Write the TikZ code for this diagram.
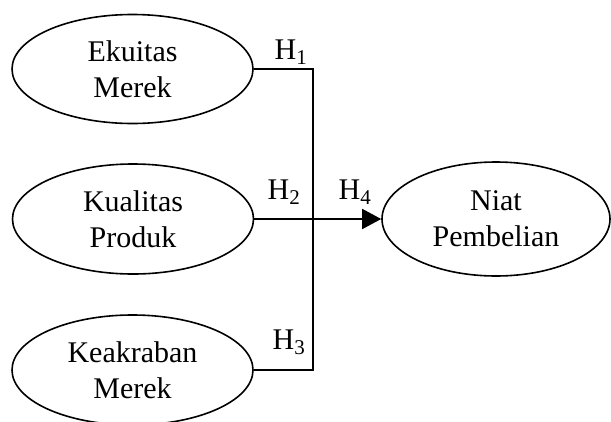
\documentclass[tikz,border=0pt]{standalone}
\usepackage{fontspec}
\setmainfont{Liberation Serif}
\usetikzlibrary{shapes.geometric, arrows.meta}

\tikzset{
  var/.style = {draw, ellipse, line width=1.6pt, inner sep=0pt, align=center,
    font=\fontsize{30}{36}\selectfont},
  hyp/.style = {font=\fontsize{30}{36}\selectfont, inner sep=0pt}
}

\begin{document}
\begin{tikzpicture}[x=1pt, y=-1pt]
\useasboundingbox (0,0) rectangle (611,421);
\node[var, minimum width=241pt, minimum height=109pt] (ekuitas) at (132.5,69) {Ekuitas\\Merek};
\node[var, minimum width=241pt, minimum height=110pt] (kualitas) at (133,219) {Kualitas\\Produk};
\node[var, minimum width=241pt, minimum height=110pt] (keakraban) at (132.5,370) {Keakraban\\Merek};
\node[var, minimum width=228pt, minimum height=114pt] (niat) at (496,219) {Niat\\Pembelian};
\coordinate (junc) at (313,219);
\draw[line width=1.6pt] (ekuitas.east) -| (junc);
\draw[line width=1.6pt] (keakraban.east) -| (junc);
\draw[line width=1.6pt, -{Triangle[length=19pt, width=20pt]}] (kualitas.east) -- (niat.west);
\node[hyp] (h1) at (291,52) {H\textsubscript{1}};
\node[hyp] (h2) at (284,192) {H\textsubscript{2}};
\node[hyp] (h3) at (289,342) {H\textsubscript{3}};
\node[hyp] (h4) at (355,192) {H\textsubscript{4}};
\end{tikzpicture}
\end{document}
